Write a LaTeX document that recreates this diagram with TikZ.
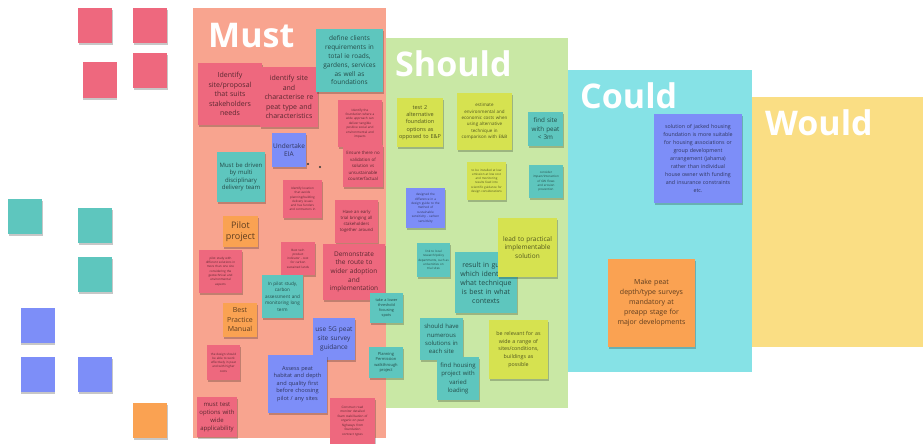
\documentclass[tikz,border=0pt]{standalone}
\usepackage{fontspec}
\setmainfont{Open Sans}
\usepackage{tikz}
\usetikzlibrary{shadows}

\definecolor{mustbg}{RGB}{248,164,143}
\definecolor{shouldbg}{RGB}{201,232,165}
\definecolor{couldbg}{RGB}{134,226,230}
\definecolor{wouldbg}{RGB}{250,222,132}
\definecolor{pinkn}{RGB}{238,104,126}
\definecolor{tealn}{RGB}{94,198,190}
\definecolor{bluen}{RGB}{125,142,248}
\definecolor{orangen}{RGB}{250,162,82}
\definecolor{limen}{RGB}{214,226,80}

\newcommand{\fs}[2]{\fontsize{#1}{#2}\selectfont}

\begin{document}
\begin{tikzpicture}[x=1pt, y=-1pt,
	lane/.style={font=\fs{34}{34}\bfseries, text=white, anchor=base west, inner sep=0pt},
	note/.style={fill=#1, align=center, inner sep=1pt, text=black, text opacity=0.62,
		drop shadow={shadow xshift=0.5pt, shadow yshift=-2pt, opacity=0.22, fill=black}},
	blank/.style={fill=#1, minimum width=34pt, minimum height=35pt, inner sep=0pt,
		drop shadow={shadow xshift=0.5pt, shadow yshift=-2pt, opacity=0.22, fill=black}}]
		\useasboundingbox (0,0) rectangle (923,444);
		
		% lanes
		\fill[mustbg] (193,8) rectangle (386,438);
		\fill[shouldbg] (386,38) rectangle (568,408);
		\fill[couldbg] (568,70) rectangle (752,372);
		\fill[wouldbg] (752,97) rectangle (923,347);
		\node[lane] (must) at (208,48) {Must};
		\node[lane] (should) at (395,77) {Should};
		\node[lane] (could) at (580,108) {Could};
		\node[lane] (would) at (765,135) {Would};
		
		% spare notes
		\node[blank=pinkn] (l1) at (95,25.5) {};
		\node[blank=pinkn] (l2) at (150,25.5) {};
		\node[blank=pinkn] (l3) at (99.5,80) {};
		\node[blank=pinkn] (l4) at (150,70.5) {};
		\node[blank=tealn] (l5) at (25,216) {};
		\node[blank=tealn] (l6) at (95,225.5) {};
		\node[blank=tealn] (l7) at (95,274.5) {};
		\node[blank=bluen] (l8) at (37.5,325.5) {};
		\node[blank=bluen] (l9) at (37.5,374.5) {};
		\node[blank=bluen] (l10) at (95,374.5) {};
		\node[blank=orangen] (l11) at (150,420) {};
		
		% must
		\node[note=pinkn, minimum width=64pt, minimum height=62pt, text width=60pt, font=\fs{7}{9.5}] (m1) at (230,94) {Identify\\ site/proposal\\ that suits\\ stakeholders\\ needs};
		\node[note=pinkn, minimum width=58pt, minimum height=60pt, text width=56pt, font=\fs{7}{9.5}] (m2) at (289,97) {identify site\\ and\\ characterise re\\ peat type and\\ characteristics};
		\node[note=tealn, minimum width=67pt, minimum height=63pt, text width=63pt, font=\fs{6.5}{8.8}] (m3) at (349.5,60.5) {define clients\\ requirements in\\ total ie roads,\\ gardens, services\\ as well as\\ foundations};
		\node[note=pinkn, minimum width=44pt, minimum height=47pt, text width=42pt, font=\fs{3.1}{4.4}] (m4) at (360,123.5) {Identify the\\ foundation where a\\ wide approach can\\ deliver tangible\\ positive social and\\ environmental and\\ impacts};
		\node[note=bluen, minimum width=34pt, minimum height=34pt, text width=32pt, font=\fs{6.5}{8.5}] (m5) at (289,150) {Undertake\\ EIA};
		\fill[black!80] (308,164) circle (1.1) (320,167) circle (1.1);
		\node[note=pinkn, minimum width=40pt, minimum height=42pt, text width=38pt, font=\fs{4.4}{6.6}] (m6) at (363,166) {Ensure there no\\ validation of\\ solution vs\\ unsustainable\\ counterfactual};
		\node[note=tealn, minimum width=48pt, minimum height=50pt, text width=46pt, font=\fs{6}{7.6}] (m7) at (241,177) {Must be driven\\ by multi\\ disciplinary\\ delivery team};
		\node[note=pinkn, minimum width=39pt, minimum height=38pt, text width=37pt, font=\fs{3}{4.2}] (m8) at (302.5,199) {Identify location\\ that avoids\\ planning/building\\ delivery issues\\ and has funders\\ and contractors in};
		\node[note=pinkn, minimum width=43pt, minimum height=43pt, text width=41pt, font=\fs{4.3}{6.2}] (m9) at (356.5,221.5) {Have an early\\ trial bringing all\\ stakeholders\\ together around};
		\node[note=orangen, minimum width=35pt, minimum height=31pt, text width=33pt, font=\fs{9}{11.5}] (m10) at (240.5,231.5) {Pilot\\ project};
		\node[note=pinkn, minimum width=43pt, minimum height=43pt, text width=41pt, font=\fs{3}{4.3}] (m11) at (220.5,271.5) {pilot study with\\ different solutions in\\ more than one site\\ considering the\\ geotechnical and\\ environmental\\ aspects};
		\node[note=pinkn, minimum width=34pt, minimum height=33pt, text width=32pt, font=\fs{3}{4.3}] (m12) at (298,258.5) {Best tech\\ product\\ indicator - cost\\ for carbon\\ sustained lands};
		\node[note=pinkn, minimum width=62pt, minimum height=56pt, text width=58pt, font=\fs{6.5}{8.6}] (m13) at (354,272) {Demonstrate\\ the route to\\ wider adoption\\ and\\ implementation};
		\node[note=tealn, minimum width=41pt, minimum height=43pt, text width=39pt, font=\fs{4.6}{6.5}] (m14) at (282.5,296.5) {In pilot study,\\ carbon\\ assessment and\\ monitoring long\\ term};
		\node[note=orangen, minimum width=34pt, minimum height=34pt, text width=32pt, font=\fs{7}{9.5}] (m15) at (240,320) {Best\\ Practice\\ Manual};
		\node[note=bluen, minimum width=42pt, minimum height=42pt, text width=40pt, font=\fs{6.5}{8.6}] (m16) at (334,339) {use 5G peat\\ site survey\\ guidance};
		\node[note=pinkn, minimum width=33pt, minimum height=35pt, text width=31pt, font=\fs{3}{4.3}] (m17) at (223.5,362.5) {the design should\\ be able to work\\ effectively in peat\\ and with higher\\ costs};
		\node[note=bluen, minimum width=59pt, minimum height=58pt, text width=57pt, font=\fs{5.6}{7.5}] (m18) at (297.5,384) {Assess peat\\ habitat and depth\\ and quality first\\ before choosing\\ pilot / any sites};
		\node[note=pinkn, minimum width=40pt, minimum height=40pt, text width=38pt, font=\fs{6}{8}] (m19) at (217,417) {must test\\ options with\\ wide\\ applicability};
		\node[note=pinkn, minimum width=45pt, minimum height=46pt, text width=43pt, font=\fs{3.1}{4.5}] (m20) at (352.5,421) {Construct road\\ monitor detailed\\ foam stabilisation of\\ organic on peat\\ highways from\\ foundation\\ contract types};
		\node[note=tealn, minimum width=33pt, minimum height=30pt, text width=31pt, font=\fs{3.8}{5.3}] (m21) at (386.5,308) {take a lower\\ threshold\\ focusing\\ spots};
		\node[note=tealn, minimum width=34pt, minimum height=31pt, text width=32pt, font=\fs{4}{5.6}] (m22) at (386,362.5) {Planning\\ Permission\\ walkthrough\\ project};
		
		% should
		\node[note=limen, minimum width=46pt, minimum height=49pt, text width=44pt, font=\fs{5.5}{7.3}] (s1) at (420,122.5) {test 2\\ alternative\\ foundation\\ options as\\ opposed to E\&P};
		\node[note=limen, minimum width=55pt, minimum height=57pt, text width=53pt, font=\fs{4.5}{6.3}] (s2) at (484.5,121.5) {estimate\\ environmental and\\ economic costs when\\ using alternative\\ technique in\\ comparison with E\&B};
		\node[note=tealn, minimum width=35pt, minimum height=34pt, text width=33pt, font=\fs{6.3}{8.6}] (s3) at (545.5,129) {find site\\ with peat\\ < 3m};
		\node[note=limen, minimum width=39pt, minimum height=38pt, text width=37pt, font=\fs{3}{4.3}] (s4) at (486.5,181) {to be installed at low\\ emission at low cost\\ and monitoring\\ results feed into\\ scientific guidance for\\ design considerations};
		\node[note=tealn, minimum width=34pt, minimum height=33pt, text width=32pt, font=\fs{3}{4.3}] (s5) at (546,181.5) {consider\\ impact/interaction\\ of GW flows\\ and erosion\\ prevention};
		\node[note=bluen, minimum width=39pt, minimum height=40pt, text width=37pt, font=\fs{3.1}{4.4}] (s6) at (425.5,208) {designed the\\ difference in a\\ design guide to the\\ method of\\ sustainable\\ sensitivity - carbon\\ sensitivity};
		\node[note=tealn, minimum width=33pt, minimum height=34pt, text width=31pt, font=\fs{3}{4.3}] (s7) at (433.5,260) {link to local\\ research/policy\\ departments, such as\\ universities on\\ trial sites};
		\node[note=tealn, minimum width=62pt, minimum height=61pt, text width=58pt, font=\fs{7}{9}] (s8) at (486,282.5) {result in guide\\ which identifies\\ what technique\\ is best in what\\ contexts};
		\node[note=limen, minimum width=59pt, minimum height=59pt, text width=57pt, font=\fs{6.5}{8.7}] (s9) at (527.5,247.5) {lead to practical\\ implementable\\ solution};
		\node[note=tealn, minimum width=43pt, minimum height=42pt, text width=41pt, font=\fs{6}{8.3}] (s10) at (441.5,339) {should have\\ numerous\\ solutions in\\ each site};
		\node[note=tealn, minimum width=42pt, minimum height=43pt, text width=40pt, font=\fs{6}{8.3}] (s11) at (458,378.5) {find housing\\ project with\\ varied\\ loading};
		\node[note=limen, minimum width=59pt, minimum height=59pt, text width=57pt, font=\fs{5.3}{7.7}] (s12) at (518.5,349.5) {be relevant for as\\ wide a range of\\ sites/conditions,\\ buildings as\\ possible};
		
		% could
		\node[note=bluen, minimum width=88pt, minimum height=89pt, text width=86pt, font=\fs{5.3}{8}] (c1) at (698,158.5) {solution of jacked housing\\ foundation is more suitable\\ for housing associations or\\ group development\\ arrangement (jahama)\\ rather than individual\\ house owner with funding\\ and insurance constraints\\ etc.};
		\node[note=orangen, minimum width=87pt, minimum height=88pt, text width=85pt, font=\fs{7}{10}] (c2) at (651.5,303) {Make peat\\ depth/type surveys\\ mandatory at\\ preapp stage for\\ major developments};
		
	\end{tikzpicture}
\end{document}
